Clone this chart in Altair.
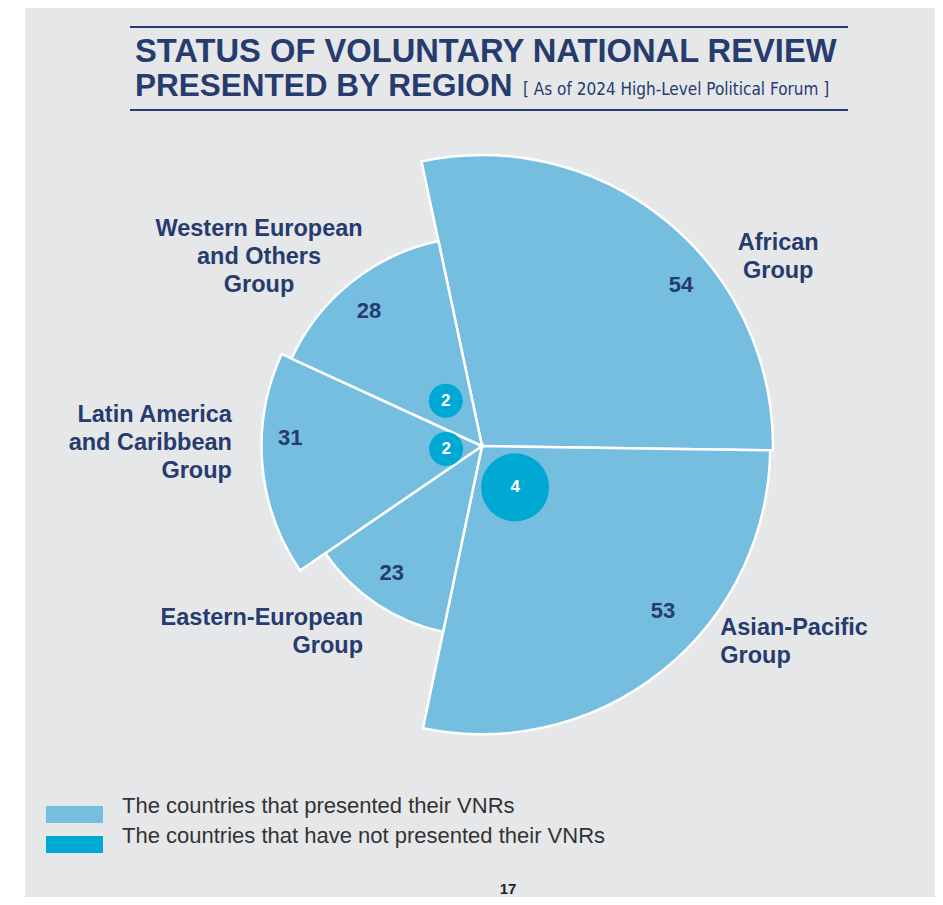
import math
import altair as alt
import pandas as pd

# ---------------- data ----------------
REGIONS = ["African Group", "Asian-Pacific Group", "Eastern-European Group",
           "Latin America and Caribbean Group", "Western European and Others Group"]
REGION_LABELS = ["African\nGroup", "Asian-Pacific\nGroup", "Eastern-European\nGroup",
                 "Latin America\nand Caribbean\nGroup", "Western European\nand Others\nGroup"]
PRESENTED = [54, 53, 23, 31, 28]
NOT_PRESENTED = [0, 4, 0, 2, 2]
LEGEND_LABELS = ["The countries that presented their VNRs",
                 "The countries that have not presented their VNRs"]
TITLE_1 = "STATUS OF VOLUNTARY NATIONAL REVIEW"
TITLE_2 = "PRESENTED BY REGION"
SUBTITLE = "[ As of 2024 High-Level Political Forum ]"
PAGE_NO = "17"

# ---------------- layout / style ----------------
W, H = 927, 889
CX, CY = 474, 438                 # centre of the polar chart (px)
R_MAX = 291                       # outer radius of the largest slice (px)
A0 = 2 * math.pi - math.radians(12)   # start angle of first slice
VALUE_ANGLE = [51, 132.4, 215.3, 272.4, 320.1]
VALUE_DIST = [256, 245, 156, 192, 176]
LABEL_ANGLE = [55.6, 127.4, 214.7, 277.1, 314.2]   # anchor of first label line
LABEL_DIST = [359, 300, 209, 252, 311]
LABEL_ALIGN = ["center", "left", "right", "right", "center"]
CIRCLE_DIST = [0, 53, 0, 36, 58]

LIGHT = "#76BEE0"
DARK = "#00A9D3"
BG = "#E6E7E9"
NAVY = "#263B6E"
FONT = "Liberation Sans"

df = pd.DataFrame({
    "idx": list(range(len(REGIONS))),
    "region": REGIONS,
    "label": REGION_LABELS,
    "presented": PRESENTED,
    "not_presented": NOT_PRESENTED,
    "va": VALUE_ANGLE, "vd": VALUE_DIST,
    "la": LABEL_ANGLE, "ld": LABEL_DIST, "align": LABEL_ALIGN,
    "cd": CIRCLE_DIST,
})
one = pd.DataFrame({"k": [0]})

def px(field):
    return alt.X(field, scale=None, axis=None)

def py(field):
    return alt.Y(field, scale=None, axis=None)

base = alt.Chart(df).transform_window(
    cum="sum(presented)", sort=[alt.SortField("idx", order="ascending")], frame=[None, 0]
).transform_joinaggregate(total="sum(presented)").transform_calculate(
    start="datum.cum - datum.presented",
    mid=f"{A0} + 2*PI*(datum.cum - datum.presented/2)/datum.total",
)

background = alt.Chart(one).mark_rect(color=BG).encode(
    x=alt.value(17), x2=alt.value(W), y=alt.value(0), y2=alt.value(H)
)

rules = alt.Chart(pd.DataFrame({"yy": [19, 102]})).mark_rule(color=NAVY, strokeWidth=2).encode(
    x=alt.value(122), x2=alt.value(840), y=py("yy:Q")
)

title1 = alt.Chart(one).mark_text(
    text=TITLE_1, font=FONT, fontSize=32.7, fontWeight="bold", color=NAVY,
    align="left", baseline="alphabetic"
).encode(x=alt.value(127), y=alt.value(54))
title2 = alt.Chart(one).mark_text(
    text=TITLE_2, font=FONT, fontSize=31.5, fontWeight="bold", color=NAVY,
    align="left", baseline="alphabetic"
).encode(x=alt.value(127), y=alt.value(88))
subtitle = alt.Chart(one).mark_text(
    text=SUBTITLE, font="DejaVu Sans Condensed, Liberation Sans", fontSize=17, color=NAVY,
    align="left", baseline="alphabetic"
).encode(x=alt.value(515), y=alt.value(87))

arcs = base.mark_arc(color=LIGHT, stroke="white", strokeWidth=2.5).encode(
    theta=alt.Theta("start:Q", stack=None,
                    scale=alt.Scale(domain=[0, sum(PRESENTED)], range=[A0, A0 + 2 * math.pi], nice=False)),
    theta2="cum:Q",
    radius=alt.Radius("presented:Q",
                      scale=alt.Scale(type="sqrt", zero=True, nice=False,
                                      domain=[0, max(PRESENTED)], range=[0, R_MAX])),
    x=alt.value(CX), y=alt.value(CY),
)

values = alt.Chart(df).transform_calculate(
    vx=f"{CX} + datum.vd*sin(datum.va*PI/180)",
    vy=f"{CY} - datum.vd*cos(datum.va*PI/180)",
).mark_text(font=FONT, fontSize=22, fontWeight="bold", color=NAVY, baseline="middle").encode(
    x=px("vx:Q"), y=py("vy:Q"), text="presented:Q"
)

circ_base = base.transform_filter("datum.not_presented > 0").transform_calculate(
    ccx=f"{CX} + datum.cd*sin(datum.mid)",
    ccy=f"{CY} - datum.cd*cos(datum.mid)",
)
circles = circ_base.mark_circle(color=DARK, opacity=1).encode(
    x=px("ccx:Q"), y=py("ccy:Q"),
    size=alt.Size("not_presented:Q", legend=None,
                  scale=alt.Scale(type="pow", exponent=2, domain=[0, max(NOT_PRESENTED)],
                                  range=[0, math.pi * 38.4 ** 2])),
)
circle_text = circ_base.mark_text(font=FONT, fontSize=17, fontWeight="bold", color="white",
                                  baseline="middle").encode(
    x=px("ccx:Q"), y=py("ccy:Q"), text="not_presented:Q"
)

label_layers = []
for a in ["center", "left", "right"]:
    label_layers.append(
        alt.Chart(df).transform_filter(f"datum.align == '{a}'").transform_calculate(
            lx=f"{CX} + datum.ld*sin(datum.la*PI/180)",
            ly=f"{CY} - datum.ld*cos(datum.la*PI/180)",
        ).mark_text(font=FONT, fontSize=23.5, fontWeight="bold", color=NAVY, align=a,
                    baseline="middle", lineBreak="\n", lineHeight=28).encode(
            x=px("lx:Q"), y=py("ly:Q"), text="label:N"
        )
    )

leg = pd.DataFrame({"i": [0, 1], "label": LEGEND_LABELS})
legend_rect = alt.Chart(leg).transform_calculate(
    y0="798 + 30*datum.i", y1="815 + 30*datum.i"
).mark_rect().encode(
    x=alt.value(38), x2=alt.value(95), y=py("y0:Q"), y2="y1:Q",
    color=alt.Color("label:N", legend=None,
                    scale=alt.Scale(domain=LEGEND_LABELS, range=[LIGHT, DARK])),
)
legend_text = alt.Chart(leg).transform_calculate(ty="805 + 30*datum.i").mark_text(
    font=FONT, fontSize=22, color="#333333", align="left", baseline="alphabetic"
).encode(x=alt.value(114), y=py("ty:Q"), text="label:N")

page_no = alt.Chart(one).mark_text(
    text=PAGE_NO, font=FONT, fontSize=15, fontWeight="bold", color="#222222",
    align="center", baseline="bottom"
).encode(x=alt.value(500), y=alt.value(H))

chart = alt.layer(
    background, rules, title1, title2, subtitle,
    arcs, values, circles, circle_text, *label_layers,
    legend_rect, legend_text, page_no
).properties(
    width=W, height=H, padding=0, background="white",
    autosize=alt.AutoSizeParams(type="none"),
).configure_view(stroke=None)

chart.save("out.html", embed_options={"renderer": "svg", "actions": False})
